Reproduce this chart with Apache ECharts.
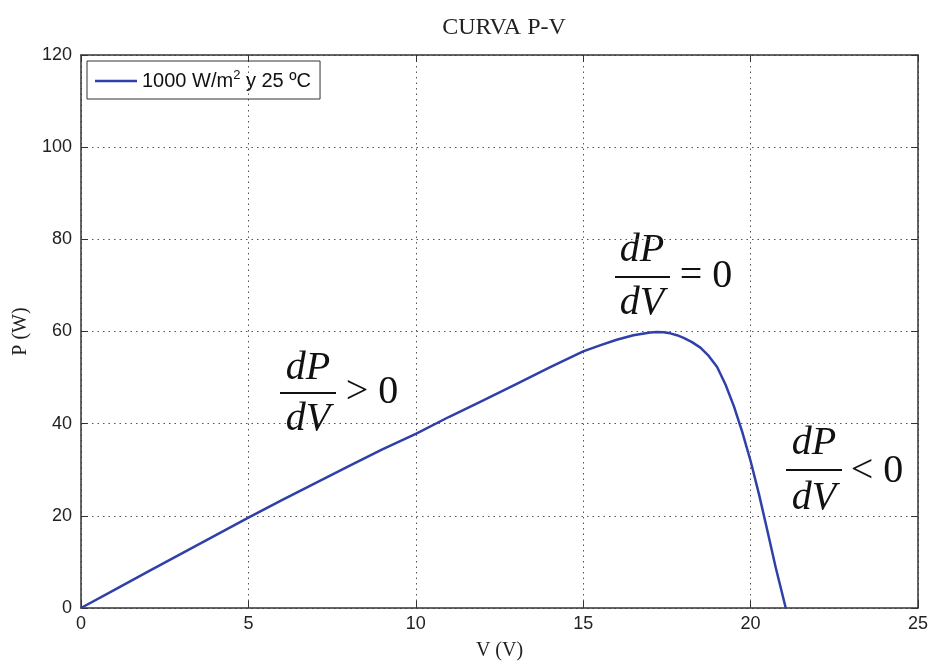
<!DOCTYPE html>
<html>
<head>
<meta charset="utf-8">
<script src="https://cdn.jsdelivr.net/npm/echarts@6/dist/echarts.min.js"></script>
<style>html,body{margin:0;padding:0;background:#fff;}#c{width:933px;height:666px;}</style>
</head>
<body>
<div id="c"></div>
<script>
const voltage = [0,1,2,3,4,5,6,7,8,9,10,11,12,13,14,15,15.5,16,16.5,17,17.2,17.4,17.6,17.8,18.0,18.25,18.5,18.75,19.0,19.25,19.5,19.75,20.0,20.25,20.5,20.75,21.05];
const power   = [0,3.95,7.9,11.8,15.7,19.6,23.4,27.1,30.8,34.4,37.8,41.5,45.0,48.6,52.2,55.7,57.0,58.2,59.2,59.8,59.9,59.85,59.6,59.2,58.6,57.7,56.5,54.7,52.3,48.5,43.8,38.2,31.9,24.7,16.8,8.8,0];
const seriesName = '1000 W/m2 y 25 ºC';
const xTicks = {min:0, max:25, interval:5};
const yTicks = {min:0, max:120, interval:20};

const chart = echarts.init(document.getElementById('c'), null, {renderer:'canvas'});
const serif = '"Liberation Serif", "Times New Roman", serif';
const sans = '"Liberation Sans", Arial, sans-serif';
const axisCol = '#333';
const grid = {left:81, right:15, top:55, bottom:53};

function frac(cx, yTop, yLine, yBot, x0, x1, rel, relX, relY) {
  const f = 'italic 40px ' + serif;
  return [
    {type:'text', x:cx, y:yTop, style:{text:'dP', font:f, fill:'#111', align:'center', verticalAlign:'middle'}},
    {type:'line', shape:{x1:x0, y1:yLine, x2:x1, y2:yLine}, style:{stroke:'#111', lineWidth:2}},
    {type:'text', x:cx, y:yBot, style:{text:'dV', font:f, fill:'#111', align:'center', verticalAlign:'middle'}},
    {type:'text', x:relX, y:relY, style:{text:rel, font:'40px ' + serif, fill:'#111', align:'center', verticalAlign:'middle'}}
  ];
}

const graphics = [].concat(
  frac(308, 368, 393, 419, 280, 336, '> 0', 372, 392),
  frac(642, 250, 277, 303, 615, 670, '= 0', 706, 276),
  frac(814, 443, 470, 498, 786, 842, '< 0', 877, 471)
);

chart.setOption({
  animation:false,
  backgroundColor:'#fff',
  title:{text:'CURVA P-V', left:499, top:11, textAlign:'center',
    textStyle:{fontFamily:serif, fontSize:24, fontWeight:'normal', color:'#222'}},
  grid:grid,
  legend:{
    left:87, top:61, orient:'horizontal',
    borderColor:'#333', borderWidth:1, padding:[8,9,8,8],
    itemWidth:42, itemHeight:2.5, itemGap:6, icon:'rect',
    data:[seriesName],
    formatter:function(){ return '{a|1000 W/m}{s|2}{a| y 25 ºC}'; },
    textStyle:{color:'#111', fontFamily:sans, fontSize:20,
      rich:{a:{fontFamily:sans, fontSize:20, color:'#111'},
            s:{fontFamily:sans, fontSize:13, color:'#111', verticalAlign:'bottom', padding:[0,0,11,0]}}}
  },
  xAxis:[{
    type:'value', min:xTicks.min, max:xTicks.max, interval:xTicks.interval,
    name:'V (V)', nameLocation:'middle', nameGap:33,
    nameTextStyle:{fontFamily:serif, fontSize:20, color:'#222'},
    axisLine:{show:true, onZero:false, lineStyle:{color:axisCol, width:1.5}},
    axisTick:{show:true, inside:true, length:7, lineStyle:{color:axisCol}},
    axisLabel:{fontFamily:sans, fontSize:18, color:'#222', margin:7},
    splitLine:{show:true, lineStyle:{color:'#555', width:1, type:[1.5,4]}}
  },{
    type:'value', position:'top', min:xTicks.min, max:xTicks.max, interval:xTicks.interval,
    axisLine:{show:true, onZero:false, lineStyle:{color:axisCol, width:1.5}},
    axisTick:{show:true, inside:true, length:7, lineStyle:{color:axisCol}},
    axisLabel:{show:false}, splitLine:{show:false}
  }],
  yAxis:[{
    type:'value', min:yTicks.min, max:yTicks.max, interval:yTicks.interval,
    name:'P (W)', nameLocation:'middle', nameGap:50,
    nameTextStyle:{fontFamily:serif, fontSize:20, color:'#222'},
    axisLine:{show:true, onZero:false, lineStyle:{color:axisCol, width:1.5}},
    axisTick:{show:true, inside:true, length:7, lineStyle:{color:axisCol}},
    axisLabel:{fontFamily:sans, fontSize:18, color:'#222', margin:9},
    splitLine:{show:true, lineStyle:{color:'#555', width:1, type:[1.5,4]}}
  },{
    type:'value', position:'right', min:yTicks.min, max:yTicks.max, interval:yTicks.interval,
    axisLine:{show:true, onZero:false, lineStyle:{color:axisCol, width:1.5}},
    axisTick:{show:true, inside:true, length:7, lineStyle:{color:axisCol}},
    axisLabel:{show:false}, splitLine:{show:false}
  }],
  series:[{
    name:seriesName, type:'line', xAxisIndex:0, yAxisIndex:0,
    data:voltage.map((v,i)=>[v, power[i]]),
    smooth:false, symbol:'none',
    lineStyle:{color:'#2f41a8', width:2.5, join:'round'},
    itemStyle:{color:'#2f41a8'}
  }],
  graphic:graphics
});
</script>
</body>
</html>
